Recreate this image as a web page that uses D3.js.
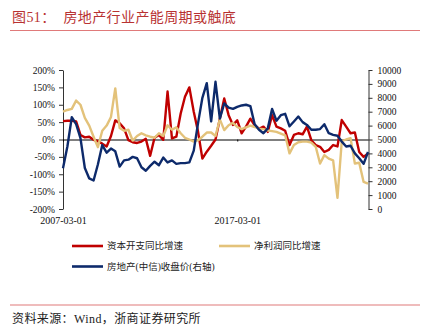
<!DOCTYPE html>
<html>
<head>
<meta charset="utf-8">
<script src="https://cdn.jsdelivr.net/npm/d3@7"></script>
<style>
  html, body { margin: 0; padding: 0; background: #fff; }
  svg { display: block; }
</style>
</head>
<body>
<div id="chart"></div>
<script>
// ---- data (quarterly, starting 2007-03-01) ----
const startDate = "2007-03-01";
const capexGrowth = [53,54,54,52,13,6,8,-1,-5,-12,-20,
  10,55,47,32,-2,-8,-10,-6,2,-47,
  5,13,-1,138,3,8,75,123,150,80,
  22,-55,-35,-18,0,60,118,70,42,55,
  18,37,60,41,31,37,22,70,37,32,
  25,-16,13,18,15,37,-2,-16,-21,-36,
  -30,-16,-20,56,37,18,20,-36,-50,-40];
const profitGrowth = [80,85,88,112,100,62,40,8,-22,25,40,
  65,147,33,25,28,-3,10,18,12,8,
  5,18,10,41,28,35,18,5,0,-6,
  -2,8,20,20,10,58,27,41,48,36,
  30,35,40,36,31,30,26,24,22,17,
  12,-40,-16,-8,-6,-6,-9,-21,-69,-45,
  -55,-60,-168,-5,0,4,-69,-67,-122,-127];
const priceIndex = [2930,4500,6600,6100,5100,2950,2200,2050,3200,4600,4050,
  4350,4150,3050,3500,3550,3750,3650,3000,2750,3100,
  3400,3150,3700,3350,3500,3250,3300,3300,3350,4200,
  6200,8000,9050,6300,9150,6500,7600,7300,7200,7350,
  7450,7500,7400,6100,5700,5450,5800,7200,6350,6750,
  6850,5950,6300,6650,6250,6050,5700,5700,5750,6100,
  5450,5330,5270,4850,4500,4550,4000,3650,3250,4100];
const leftTicks = [-200,-150,-100,-50,0,50,100,150,200];
const rightTicks = [0,1000,2000,3000,4000,5000,6000,7000,8000,9000,10000];
const xTickLabels = ["2007-03-01","2017-03-01"];
const seriesNames = ["资本开支同比增速","净利润同比增速","房地产(中信)收盘价(右轴)"];
const titleText = "图51：  房地产行业产能周期或触底";
const sourceText = "资料来源：Wind，浙商证券研究所";

// ---- setup ----
const W = 429, H = 332;
const parse = d3.timeParse("%Y-%m-%d");
const d0 = parse(startDate);
const dates = capexGrowth.map((_, i) => d3.timeMonth.offset(d0, 3 * i));

const svg = d3.select("#chart").append("svg")
  .attr("width", W).attr("height", H)
  .style("background", "#fff");

const plot = { left: 63, right: 368, top: 70, bottom: 209 };
const x = d3.scaleTime().domain([d0, dates[dates.length - 1]]).range([plot.left, plot.right]);
const yL = d3.scaleLinear().domain([-200, 200]).range([plot.bottom, plot.top]);
const yR = d3.scaleLinear().domain([0, 10000]).range([plot.bottom, plot.top]);

const serif = "'Liberation Serif', 'Times New Roman', serif";
const mixed = "'Liberation Serif', 'Noto Sans CJK SC', serif";
const red = "#c00000", tan = "#e3c27a", navy = "#0d2a6b";

// ---- title ----
svg.append("text").attr("x", 12).attr("y", 22)
  .attr("font-family", mixed).attr("font-size", 14)
  .attr("letter-spacing", 0.4)
  .attr("fill", "#b83232").attr("xml:space", "preserve")
  .style("white-space", "pre")
  .text(titleText);
svg.append("line").attr("x1", 10).attr("x2", 420).attr("y1", 30.5).attr("y2", 30.5)
  .attr("stroke", "#e07a7a").attr("stroke-width", 1.2);

// ---- axes ----
const gL = svg.append("g").attr("transform", `translate(${plot.left},0)`)
  .call(d3.axisLeft(yL).tickValues(leftTicks).tickFormat(d => d + "%")
    .tickSize(4).tickSizeOuter(0).tickPadding(4));
const gR = svg.append("g").attr("transform", `translate(${plot.right + 0.5},0)`)
  .call(d3.axisRight(yR).tickValues(rightTicks).tickFormat(d3.format("d"))
    .tickSize(4).tickSizeOuter(0).tickPadding(5));
[gL, gR].forEach(g => {
  g.selectAll("path,line").attr("stroke", "#333").attr("stroke-width", 1);
  g.selectAll("text").attr("font-family", serif).attr("font-size", 9.5).attr("fill", "#111");
});

// zero line with small ticks
const xTickDates = xTickLabels.map(parse);
const gZero = svg.append("g").attr("transform", `translate(0,${yL(0)})`)
  .call(d3.axisBottom(x).tickValues(xTickDates).tickSize(2).tickSizeOuter(0).tickFormat(""));
gZero.selectAll("path,line").attr("stroke", "#000").attr("stroke-width", 1);

// x labels
const gX = svg.append("g").attr("transform", `translate(0,${plot.bottom})`)
  .call(d3.axisBottom(x).tickValues(xTickDates).tickSize(0).tickPadding(8)
    .tickFormat(d3.timeFormat("%Y-%m-%d")));
gX.select(".domain").remove();
gX.selectAll("text").attr("font-family", serif).attr("font-size", 10).attr("fill", "#111");

// ---- series ----
const lineL = d3.line().x((d, i) => x(dates[i])).y(d => yL(d));
const lineR = d3.line().x((d, i) => x(dates[i])).y(d => yR(d));
svg.append("path").datum(capexGrowth).attr("d", lineL)
  .attr("fill", "none").attr("stroke", red).attr("stroke-width", 2.4).attr("stroke-linejoin", "round");
svg.append("path").datum(profitGrowth).attr("d", lineL)
  .attr("fill", "none").attr("stroke", tan).attr("stroke-width", 2.4).attr("stroke-linejoin", "round");
svg.append("path").datum(priceIndex).attr("d", lineR)
  .attr("fill", "none").attr("stroke", navy).attr("stroke-width", 2.4).attr("stroke-linejoin", "round");

// ---- legend ----
const legendItems = [
  { name: seriesNames[0], color: red, x: 72, y: 246 },
  { name: seriesNames[1], color: tan, x: 219, y: 246 },
  { name: seriesNames[2], color: navy, x: 72, y: 266.5 }
];
const lg = svg.append("g");
legendItems.forEach(it => {
  lg.append("line").attr("x1", it.x).attr("x2", it.x + 31).attr("y1", it.y).attr("y2", it.y)
    .attr("stroke", it.color).attr("stroke-width", 2.6);
  lg.append("text").attr("x", it.x + 35).attr("y", it.y).attr("dy", "0.35em")
    .attr("font-family", mixed).attr("font-size", 9.5).attr("fill", "#222")
    .text(it.name);
});

// ---- source ----
svg.append("line").attr("x1", 10).attr("x2", 420).attr("y1", 305).attr("y2", 305)
  .attr("stroke", "#e07a7a").attr("stroke-width", 1.2);
svg.append("text").attr("x", 12).attr("y", 319).attr("dy", "0.35em")
  .attr("font-family", mixed).attr("font-size", 12).attr("letter-spacing", 0.4)
  .attr("fill", "#222")
  .text(sourceText);
</script>
</body>
</html>
